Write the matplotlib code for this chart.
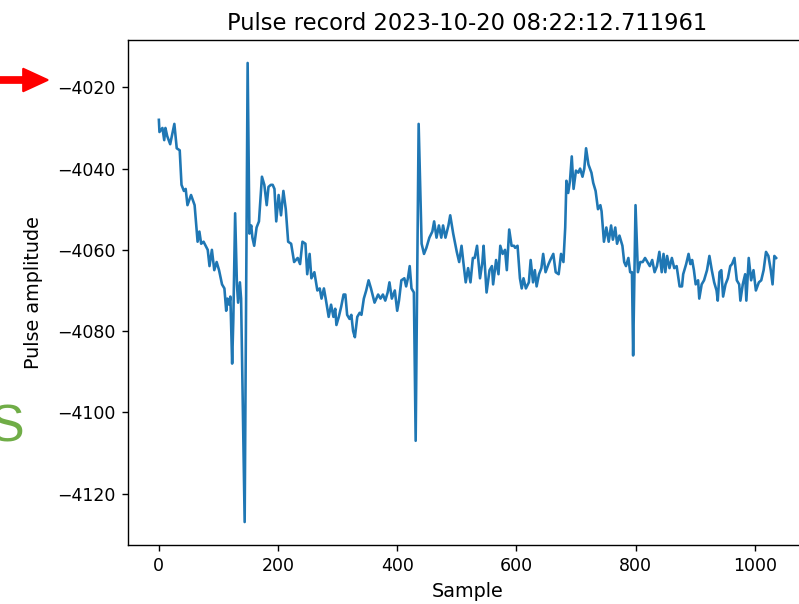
import matplotlib
matplotlib.use('Agg')
import matplotlib.pyplot as plt
from matplotlib.patches import FancyArrow
from matplotlib.transforms import IdentityTransform

# Pulse record, values
sample = [0, 1, 6, 9, 11, 14, 19, 26, 30, 35, 38, 42, 45, 48, 54, 60, 65, 68, 71, 75,
          82, 85, 89, 93, 97, 101, 106, 110, 113, 115, 118, 120, 123, 125, 128, 131, 133, 136, 138, 144,
          149, 152, 155, 157, 160, 164, 168, 173, 177, 181, 184, 188, 191, 194, 197, 201, 205, 209, 213, 217,
          222, 227, 233, 237, 241, 246, 249, 253, 256, 261, 266, 270, 273, 277, 280, 285, 289, 293, 296, 298,
          302, 306, 310, 313, 316, 320, 323, 326, 329, 333, 337, 340, 344, 348, 352, 356, 362, 368, 372, 376,
          380, 384, 387, 391, 396, 400, 403, 407, 412, 415, 418, 421, 424, 428, 431, 436, 441, 445, 449, 454,
          459, 462, 466, 470, 474, 477, 481, 486, 489, 494, 500, 504, 508, 511, 515, 519, 523, 527, 530, 534,
          539, 543, 545, 550, 555, 559, 561, 566, 570, 573, 577, 581, 584, 588, 592, 596, 598, 602, 606, 609,
          612, 616, 621, 624, 628, 631, 634, 638, 642, 645, 649, 654, 657, 662, 666, 671, 675, 679, 682, 684,
          687, 690, 693, 696, 700, 704, 707, 711, 714, 717, 721, 726, 729, 733, 737, 741, 743, 747, 751, 755,
          759, 762, 766, 769, 773, 778, 781, 784, 788, 791, 794, 796, 800, 804, 808, 812, 816, 820, 824, 828,
          832, 836, 840, 844, 847, 850, 853, 857, 861, 865, 869, 874, 878, 880, 885, 889, 892, 895, 898, 901,
          905, 907, 911, 915, 920, 924, 928, 932, 936, 938, 941, 944, 947, 951, 955, 959, 962, 966, 970, 974,
          976, 980, 984, 986, 990, 994, 998, 1002, 1007, 1011, 1015, 1019, 1023, 1027, 1030, 1033, 1036]

amplitude = [-4028, -4031, -4030, -4033, -4030, -4032, -4034, -4029, -4035, -4035.5, -4044, -4045.5, -4045, -4049, -4046.5, -4049, -4058, -4055.5, -4058.5, -4058,
             -4060, -4064, -4060, -4065, -4063, -4065, -4068.5, -4069.5, -4075, -4072, -4073.5, -4071.5, -4088, -4077, -4051, -4068.5, -4073, -4068, -4072, -4127,
             -4014, -4056, -4054, -4057, -4059, -4054.5, -4053, -4042, -4044, -4049, -4044.5, -4044, -4044, -4045, -4053, -4046.5, -4051.5, -4045.5, -4050, -4058,
             -4058.5, -4063, -4062, -4063.5, -4058, -4058.5, -4066, -4061, -4067, -4065.5, -4070, -4069.5, -4072, -4069.5, -4072, -4076.5, -4073.5, -4076.5, -4074.5, -4078.5,
             -4076.5, -4074, -4071, -4071, -4076, -4077, -4076, -4080, -4081.5, -4076.5, -4075.5, -4076, -4072, -4070, -4067.5, -4069.5, -4073, -4071, -4072, -4071,
             -4072.5, -4070.5, -4068, -4072, -4070, -4075, -4072.5, -4067.5, -4067, -4069, -4067, -4064, -4069.5, -4070.5, -4107, -4029, -4058.5, -4061, -4059.5, -4057,
             -4055.5, -4053, -4057, -4054, -4057, -4054, -4057, -4054, -4051.5, -4056, -4060.5, -4063, -4059, -4063, -4068, -4064.5, -4068, -4062, -4062, -4059,
             -4067, -4063, -4059, -4070.5, -4065, -4064, -4068.5, -4062.5, -4066, -4059, -4061, -4060, -4065, -4055, -4059, -4059, -4059.5, -4059, -4067, -4069.5,
             -4067, -4069.5, -4068, -4062.5, -4068, -4065, -4069, -4066, -4064.5, -4061, -4065.5, -4063.5, -4062.5, -4061, -4065.5, -4066, -4061, -4063, -4054.5, -4043,
             -4046, -4043, -4037, -4045, -4040.5, -4041, -4040, -4042, -4040, -4035, -4039, -4041, -4043.5, -4045.5, -4050, -4049, -4050.5, -4058, -4054.5, -4058,
             -4054, -4057.5, -4054.5, -4058.5, -4056.5, -4059, -4063, -4064, -4062, -4065.5, -4065.5, -4086, -4049, -4065.5, -4063, -4063, -4062, -4063, -4064, -4062.5,
             -4065.5, -4064, -4060.5, -4065.5, -4061, -4065.5, -4061.5, -4064.5, -4062, -4064.5, -4064, -4069, -4069, -4066, -4063.5, -4061, -4063.5, -4062.5, -4065, -4068.5,
             -4067.5, -4072, -4068.5, -4067.5, -4065, -4061.5, -4065, -4068, -4070, -4072.5, -4065.5, -4065, -4071.5, -4068.5, -4067, -4064, -4063.5, -4062, -4067.5, -4068.5,
             -4072.5, -4068.5, -4066, -4072.5, -4062, -4067.5, -4065, -4070, -4068, -4067.5, -4065, -4060.5, -4061.5, -4065, -4068.5, -4061.5, -4062]

title = "Pulse record 2023-10-20 08:22:12.711961"

W, H = 799, 604
fig = plt.figure(figsize=(W / 125, H / 125), dpi=125)
ax = fig.add_axes([128 / W, 1 - 545 / H, (807 - 128) / W, (545 - 40) / H])

ax.plot(sample, amplitude, color='#1f77b4', linewidth=1.5)
ax.set_title(title, fontsize=13)
ax.set_xlabel("Sample", fontsize=11)
ax.set_ylabel("Pulse amplitude", fontsize=11, labelpad=8)

# red arrow pointing at the -4020 tick label (screenshot overlay)
arrow = FancyArrow(0, H - 80, 48, 0, width=6, head_width=23, head_length=25,
                   length_includes_head=True, color='#ff0000',
                   transform=IdentityTransform())
fig.patches.append(arrow)

# partly cut green letter at the left edge
fig.text(-10 / W, 1 - 442 / H, "S", color='#70ad47', fontsize=30,
         family='Liberation Sans', va='baseline', ha='left')

fig.savefig('out.png', dpi=125)
